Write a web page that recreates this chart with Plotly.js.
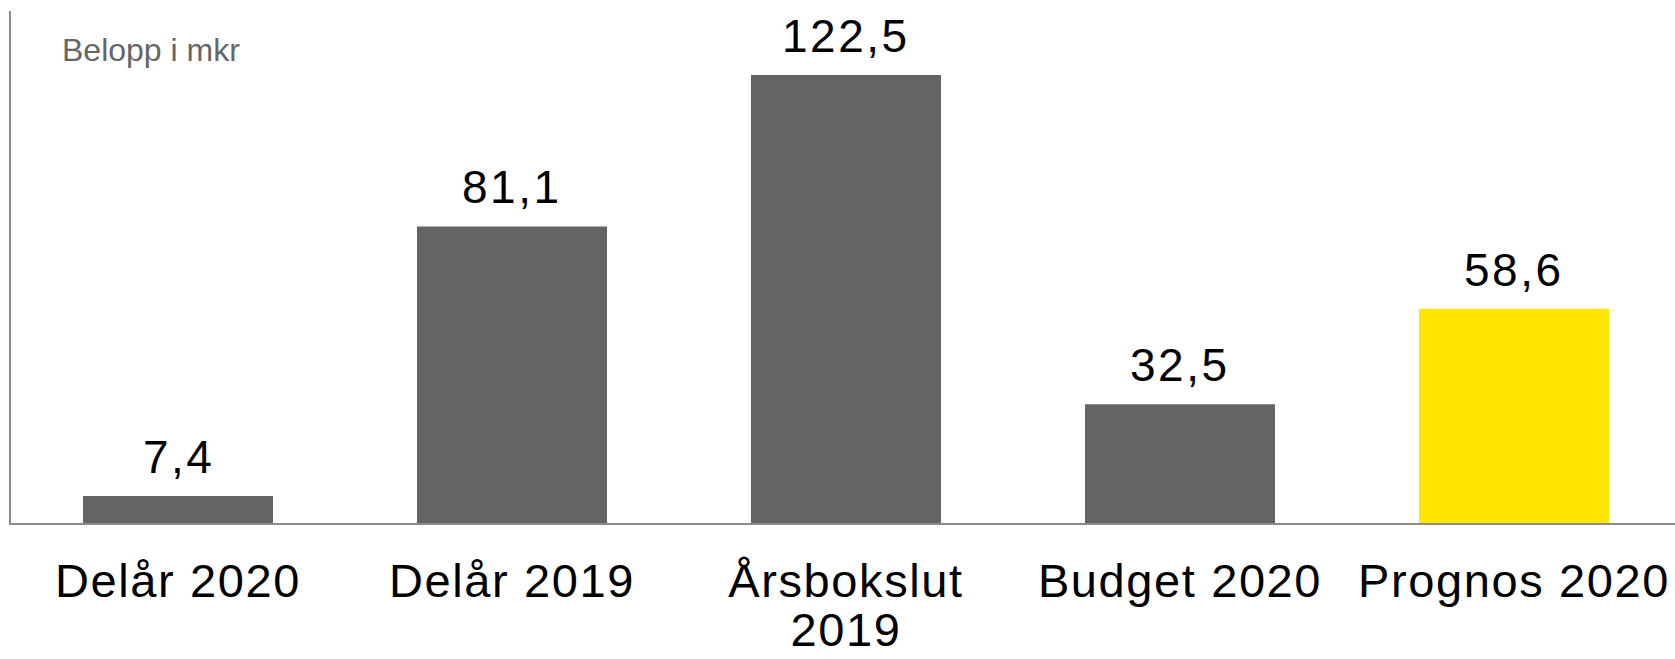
<!DOCTYPE html>
<html>
<head>
<meta charset="utf-8">
<script src="https://cdn.plot.ly/plotly-3.0.1.min.js"></script>
<style>
  html, body { margin: 0; padding: 0; background: #ffffff; }
  #chart { width: 1675px; height: 659px; }
</style>
</head>
<body>
<div id="chart"></div>
<script>
// ---- data ----
const categories = ['Delår 2020', 'Delår 2019', 'Årsbokslut<br>2019', 'Budget 2020', 'Prognos 2020'];
const values = [7.4, 81.1, 122.5, 32.5, 58.6];
const unitLabel = 'Belopp i mkr';
const highlightCategory = 'Prognos 2020';

// ---- styles ----
const GRAY = '#646464';
const YELLOW = '#FFE600';
const FONT = '"Liberation Sans", Arial, sans-serif';
const barColors = categories.map(c => c === highlightCategory ? YELLOW : GRAY);
const fmt = v => v.toFixed(1).replace('.', ',');

const tickText = categories.map(c =>
  c.split('<br>').map(l => '<span style="font-size:47px;letter-spacing:1.6px">' + l + '</span>').join('<br>')
);

const valueAnnotations = categories.map((c, i) => ({
  x: c, y: values[i], xref: 'x', yref: 'y',
  text: '<span style="letter-spacing:2.5px">' + fmt(values[i]) + '</span>',
  showarrow: false, xanchor: 'center', yanchor: 'bottom', yshift: 11,
  font: { family: FONT, size: 46, color: '#000000' }
}));

const trace = {
  type: 'bar',
  x: categories,
  y: values,
  marker: { color: barColors, line: { width: 0 } },
  hoverinfo: 'none'
};

const layout = {
  width: 1675, height: 659,
  margin: { l: 11, r: 0, t: 11, b: 136, pad: 0 },
  paper_bgcolor: '#ffffff', plot_bgcolor: '#ffffff',
  showlegend: false,
  bargap: 0.431,
  font: { family: FONT, color: '#000000' },
  xaxis: {
    type: 'category',
    range: [-0.5, 4.482],
    showline: true, linecolor: '#8c8c8c', linewidth: 2,
    ticks: 'outside', ticklen: 28, tickcolor: 'rgba(0,0,0,0)',
    tickvals: categories, ticktext: tickText, tickangle: 0,
    tickfont: { family: FONT, size: 37, color: '#000000' },
    showgrid: false, zeroline: false, fixedrange: true
  },
  yaxis: {
    range: [0, 140],
    showline: true, linecolor: '#8c8c8c', linewidth: 2,
    showticklabels: false, ticks: '',
    showgrid: false, zeroline: false, fixedrange: true
  },
  annotations: valueAnnotations.concat([{
    xref: 'paper', yref: 'paper', x: 0.0295, y: 0.963,
    xanchor: 'left', yanchor: 'top', showarrow: false,
    text: unitLabel,
    font: { family: FONT, size: 32, color: '#666666' }
  }])
};

Plotly.newPlot('chart', [trace], layout, { displayModeBar: false, staticPlot: true });
</script>
</body>
</html>
